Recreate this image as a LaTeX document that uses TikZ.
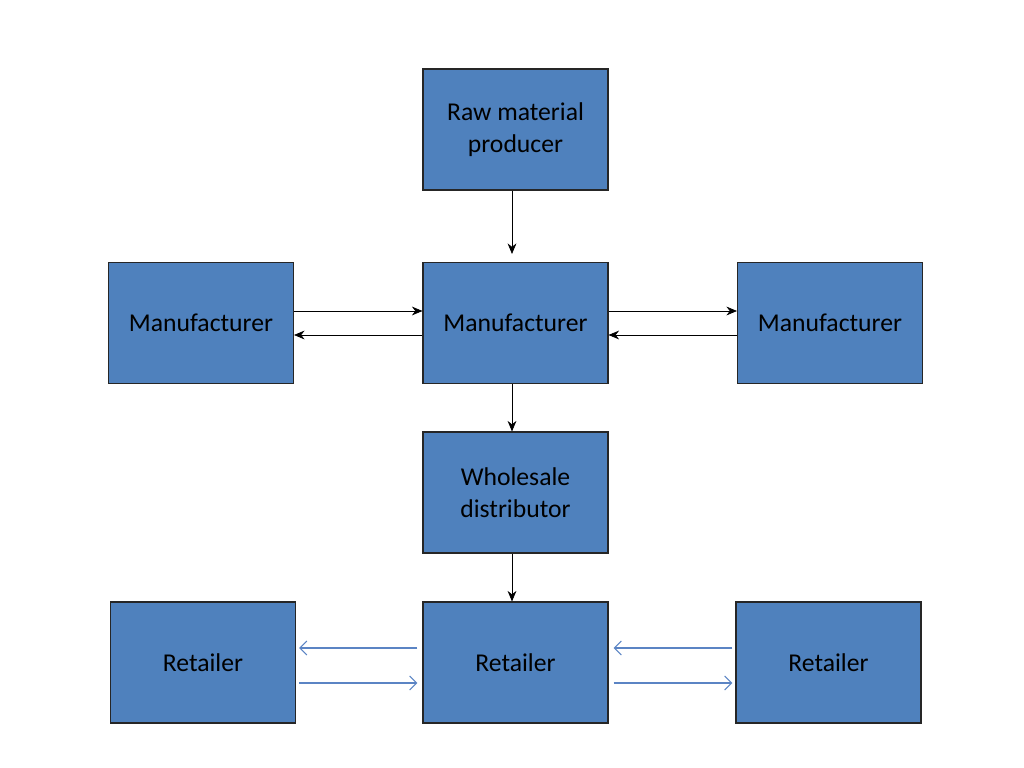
\documentclass[tikz,border=0pt]{standalone}
\usepackage{fontspec}
\setmainfont{Carlito}
\usepackage{tikz}
\usetikzlibrary{arrows.meta}

\definecolor{boxblue}{HTML}{4F81BD}
\definecolor{linkblue}{HTML}{5B84C4}

\begin{document}
\begin{tikzpicture}[every node/.style={rectangle, draw=black!85, fill=boxblue,
        minimum width=3.7cm, minimum height=2.42cm, align=center,
        font=\fontsize{14.6}{18}\selectfont, line width=0.6pt}]
    \useasboundingbox (0,0) rectangle (20.48,-15.36);

    \node (raw) at (10.31,-2.59) {Raw material\\producer};
    \node (mfrL) at (4.02,-6.46) {Manufacturer};
    \node (mfrC) at (10.31,-6.46) {Manufacturer};
    \node (mfrR) at (16.6,-6.46) {Manufacturer};
    \node (whole) at (10.31,-9.85) {Wholesale\\distributor};
    \node (retL) at (4.06,-13.25) {Retailer};
    \node (retC) at (10.31,-13.25) {Retailer};
    \node (retR) at (16.57,-13.25) {Retailer};

    \draw[-{Stealth[length=6pt,width=5pt]}, shorten >=0.16cm] ([xshift=-0.07cm]raw.south) -- ([xshift=-0.07cm]mfrC.north);
    \draw[-{Stealth[length=6pt,width=5pt]}] ([xshift=-0.07cm]mfrC.south) -- ([xshift=-0.07cm]whole.north);
    \draw[-{Stealth[length=6pt,width=5pt]}] ([xshift=-0.07cm]whole.south) -- ([xshift=-0.07cm]retC.north);

    \draw[-{Stealth[length=6pt,width=5pt]}] ([yshift=0.24cm]mfrL.east) -- ([yshift=0.24cm]mfrC.west);
    \draw[-{Stealth[length=6pt,width=5pt]}] ([yshift=-0.24cm]mfrC.west) -- ([yshift=-0.24cm]mfrL.east);
    \draw[-{Stealth[length=6pt,width=5pt]}] ([yshift=0.24cm]mfrC.east) -- ([yshift=0.24cm]mfrR.west);
    \draw[-{Stealth[length=6pt,width=5pt]}] ([yshift=-0.24cm]mfrR.west) -- ([yshift=-0.24cm]mfrC.east);

    \draw[linkblue, line width=0.6pt, -{Straight Barb[length=4pt,width=8pt]}, shorten <=0.1cm, shorten >=0.06cm] ([yshift=0.29cm]retC.west) -- ([yshift=0.29cm]retL.east);
    \draw[linkblue, line width=0.6pt, -{Straight Barb[length=4pt,width=8pt]}, shorten <=0.06cm, shorten >=0.1cm] ([yshift=-0.41cm]retL.east) -- ([yshift=-0.41cm]retC.west);
    \draw[linkblue, line width=0.6pt, -{Straight Barb[length=4pt,width=8pt]}, shorten <=0.06cm, shorten >=0.1cm] ([yshift=0.29cm]retR.west) -- ([yshift=0.29cm]retC.east);
    \draw[linkblue, line width=0.6pt, -{Straight Barb[length=4pt,width=8pt]}, shorten <=0.1cm, shorten >=0.06cm] ([yshift=-0.41cm]retC.east) -- ([yshift=-0.41cm]retR.west);
\end{tikzpicture}
\end{document}
